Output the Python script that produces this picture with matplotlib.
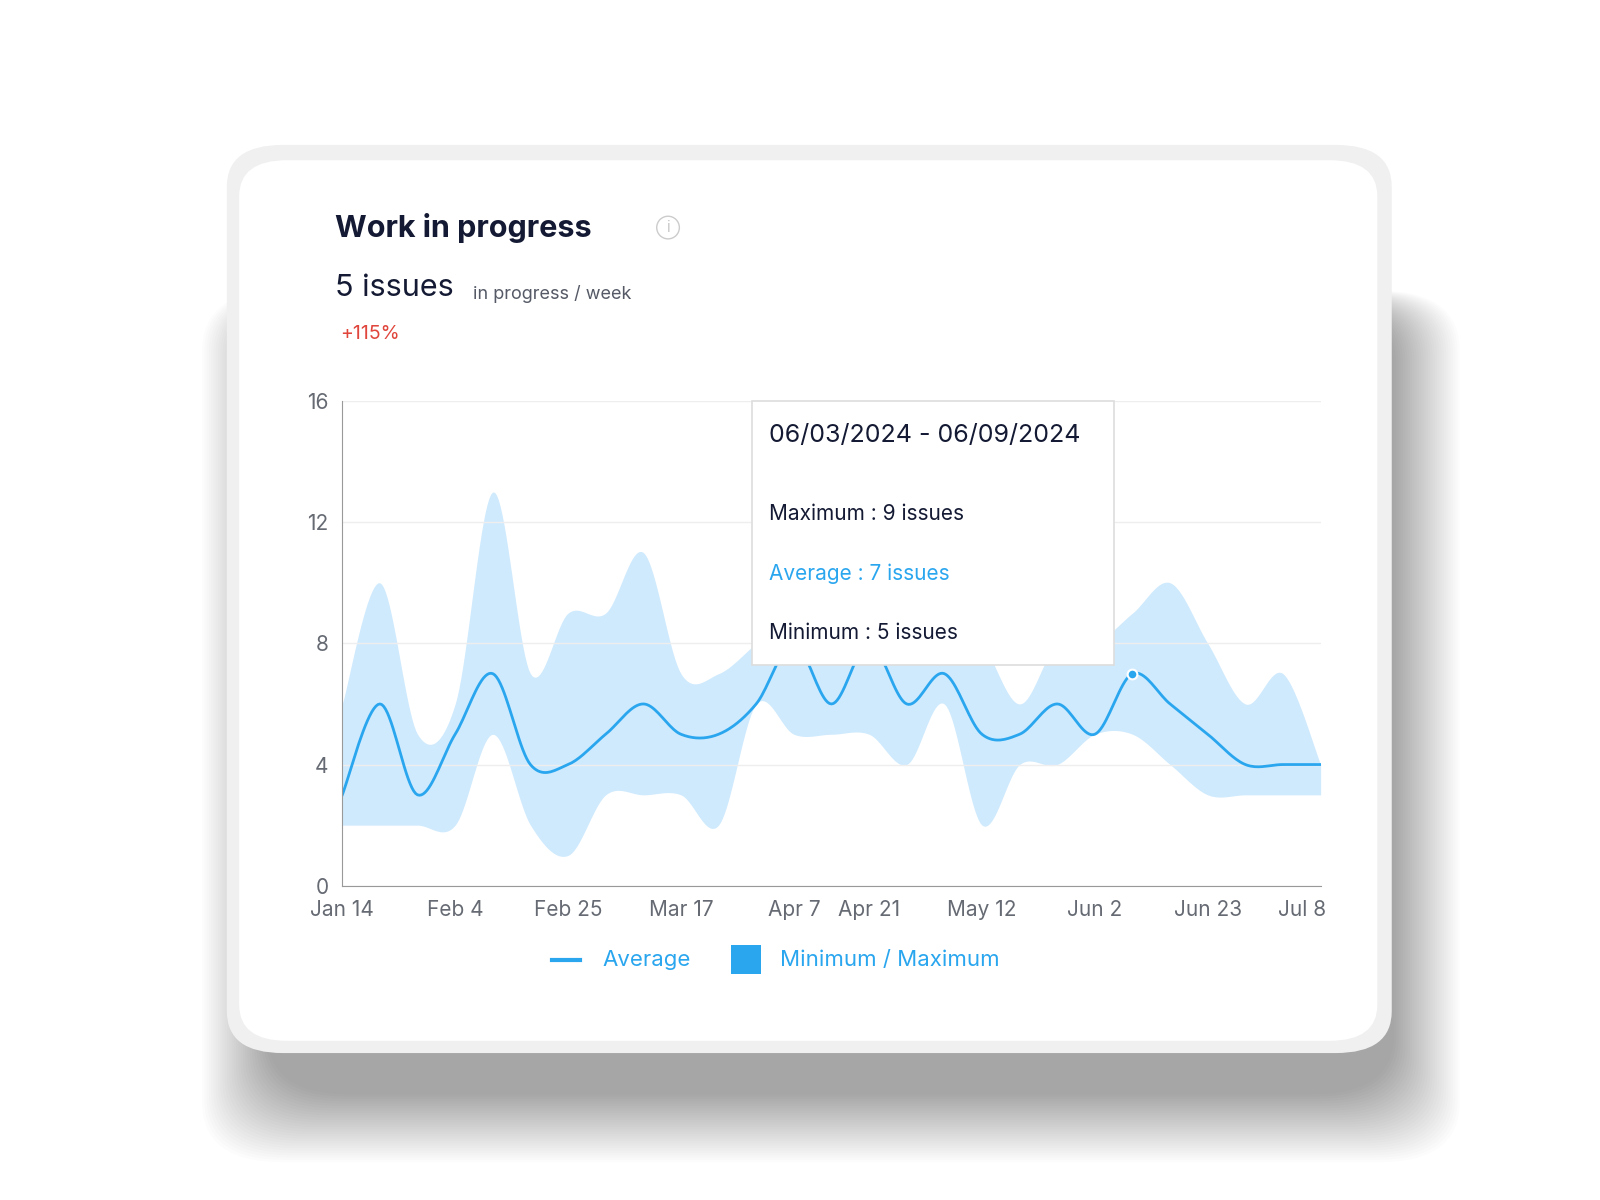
import numpy as np
import matplotlib
matplotlib.use("Agg")
import matplotlib.pyplot as plt
from matplotlib.patches import FancyBboxPatch, Rectangle
from matplotlib.lines import Line2D

plt.rcParams["font.family"] = "Inter"

weeks = list(range(27))
tick_pos = [0, 3, 6, 9, 12, 14, 17, 20, 23, 25.5]
tick_labels = ["Jan 14", "Feb 4", "Feb 25", "Mar 17", "Apr 7", "Apr 21", "May 12", "Jun 2", "Jun 23", "Jul 8"]
avg = [3, 6, 3, 5, 7, 4, 4, 5, 6, 5, 5, 6, 8, 6, 8, 6, 7, 5, 5, 6, 5, 7, 6, 5, 4, 4, 4]
vmax = [6, 10, 5, 6, 13, 7, 9, 9, 11, 7, 7, 8, 9, 9, 9, 9, 9, 8, 6, 8, 8, 9, 10, 8, 6, 7, 4]
vmin = [2, 2, 2, 2, 5, 2, 1, 3, 3, 3, 2, 6, 5, 5, 5, 4, 6, 2, 4, 4, 5, 5, 4, 3, 3, 3, 3]

W, H = 1552.0, 1176.0
def fx(x): return x / W
def fy(y): return 1 - y / H

def smooth(xs, ys, n=20):
    xs = np.asarray(xs, float); ys = np.asarray(ys, float)
    px = np.concatenate([[xs[0]], xs, [xs[-1]]]); py = np.concatenate([[ys[0]], ys, [ys[-1]]])
    ox, oy = [], []
    for i in range(1, len(px) - 2):
        t = np.linspace(0, 1, n, endpoint=False)
        for arr, out in ((px, ox), (py, oy)):
            p0, p1, p2, p3 = arr[i-1], arr[i], arr[i+1], arr[i+2]
            m1 = (p2 - p0) / 2; m2 = (p3 - p1) / 2
            h00 = 2*t**3 - 3*t**2 + 1; h10 = t**3 - 2*t**2 + t
            h01 = -2*t**3 + 3*t**2; h11 = t**3 - t**2
            out.extend(h00*p1 + h10*m1 + h01*p2 + h11*m2)
    ox.append(xs[-1]); oy.append(ys[-1])
    return np.array(ox), np.array(oy)

fig = plt.figure(figsize=(16, 12), dpi=100)
fig.patch.set_facecolor("white")

# soft shadow
for i in range(30):
    g = 30 - i
    x0, y0, x1, y1 = 262 - g*2.2, 300 - g*0.5, 1350 + g*2.2, 1070 + g*2.3
    fig.patches.append(FancyBboxPatch((fx(x0), fy(y1)), fx(x1 - x0), (y1 - y0) / H,
        boxstyle="round,pad=0,rounding_size=0.05", transform=fig.transFigure,
        facecolor="black", edgecolor="none", alpha=0.011, zorder=0))
fig.patches.append(FancyBboxPatch((fx(220), fy(1032)), fx(1130), 890 / H,
    boxstyle="round,pad=0,rounding_size=0.035", transform=fig.transFigure,
    facecolor="#f0f0f0", edgecolor="none", zorder=1))
fig.patches.append(FancyBboxPatch((fx(232), fy(1020)), fx(1104), 863 / H,
    boxstyle="round,pad=0,rounding_size=0.03", transform=fig.transFigure,
    facecolor="white", edgecolor="none", zorder=2))

fig.text(fx(325), fy(223), "Work in progress", fontsize=22, fontweight="bold", color="#141a33", va="center", zorder=5)
fig.text(fx(648), fy(223), "i", fontsize=11, color="#c8c8c8", ha="center", va="center", zorder=5,
         bbox=dict(boxstyle="circle,pad=0.25", fc="white", ec="#cccccc"))
fig.text(fx(325), fy(282), "5 issues", fontsize=22, color="#141a33", va="center", zorder=5)
fig.text(fx(459), fy(288), "in progress / week", fontsize=13, color="#555a66", va="center", zorder=5)
fig.text(fx(330), fy(327), "+115%", fontsize=14, color="#e0463c", va="center", zorder=5)

ax = fig.add_axes([fx(332), fy(868), fx(1281) - fx(332), fy(393) - fy(868)], zorder=3)
ax.set_facecolor("none")
sx, smx = smooth(weeks, vmax); _, smn = smooth(weeks, vmin); _, sav = smooth(weeks, avg)
ax.fill_between(sx, smn, smx, color="#cfeafd", lw=0)
ax.plot(sx, sav, color="#2aa6ef", lw=2)
ax.plot(21, avg[21], "o", ms=7, color="#2aa6ef", mec="white", mew=1.5, zorder=6)
ax.set_xlim(0, 26); ax.set_ylim(0, 16)
ax.set_yticks([0, 4, 8, 12, 16])
ax.set_xticks(tick_pos); ax.set_xticklabels(tick_labels)
ax.tick_params(length=0, labelsize=15, labelcolor="#666a73", pad=10)
ax.grid(axis="y", color="#eeeeee", lw=1)
for s in ["top", "right"]: ax.spines[s].set_visible(False)
for s in ["left", "bottom"]: ax.spines[s].set_color("#999999")

# tooltip
fig.patches.append(Rectangle((fx(729), fy(652)), fx(352), 259 / H, transform=fig.transFigure,
    facecolor="white", edgecolor="#dddddd", lw=1.2, zorder=10))
fig.text(fx(746), fy(427), "06/03/2024 - 06/09/2024", fontsize=18, color="#141a33", va="center", zorder=11)
fig.text(fx(746), fy(504), "Maximum : 9 issues", fontsize=15, color="#141a33", va="center", zorder=11)
fig.text(fx(746), fy(562), "Average : 7 issues", fontsize=15, color="#2aa6ef", va="center", zorder=11)
fig.text(fx(746), fy(620), "Minimum : 5 issues", fontsize=15, color="#141a33", va="center", zorder=11)

# legend
fig.lines.append(Line2D([fx(535), fx(563)], [fy(941), fy(941)], transform=fig.transFigure, color="#2aa6ef", lw=3, zorder=5))
fig.text(fx(584), fy(941), "Average", fontsize=16, color="#2aa6ef", va="center", zorder=5)
fig.patches.append(Rectangle((fx(709), fy(955)), fx(29), 29 / H, transform=fig.transFigure, facecolor="#2aa6ef", zorder=5))
fig.text(fx(757), fy(941), "Minimum / Maximum", fontsize=16, color="#2aa6ef", va="center", zorder=5)

fig.savefig("out.png", dpi=100)
